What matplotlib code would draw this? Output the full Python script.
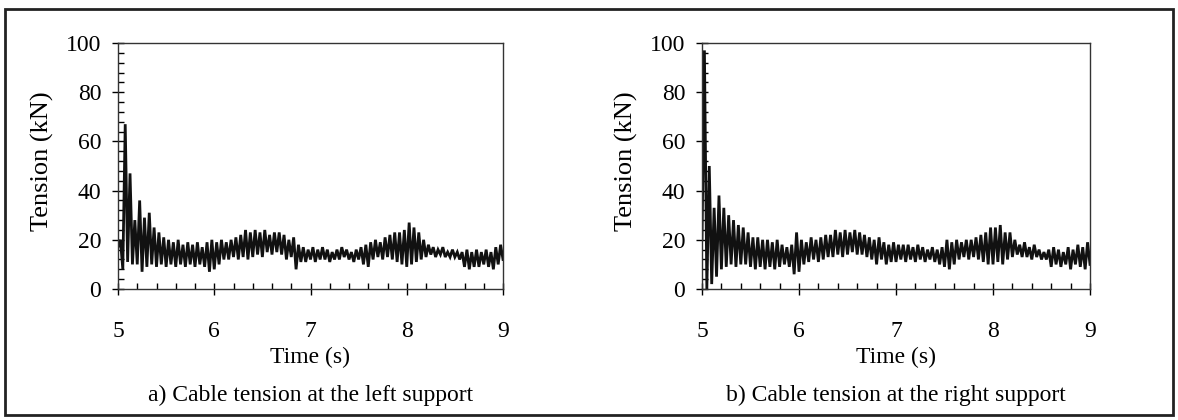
import numpy as np
import matplotlib
matplotlib.use("Agg")
import matplotlib.pyplot as plt
from matplotlib.patches import Rectangle
from matplotlib.ticker import MultipleLocator

plt.rcParams['font.family'] = ['Liberation Serif', 'DejaVu Serif']

# --- data (kN) ---
# troughs at t = 5.00, 5.05, ... 9.00 ; peaks at t = 5.025, 5.075, ... 8.975
t_start, t_end = 5.0, 9.0
half_step = 0.025

left_peaks = [20, 67, 47, 28, 36, 29, 31, 25, 23, 21,
              20, 19, 20, 18, 19, 18, 19, 17, 19, 20,
              19, 20, 19, 20, 21, 22, 24, 23, 24, 23,
              24, 22, 23, 23, 22, 20, 21, 18, 17, 16,
              17, 16, 17, 16, 15, 16, 17, 16, 15, 16,
              17, 18, 19, 20, 19, 21, 22, 23, 23, 24,
              27, 25, 23, 20, 18, 17, 16, 17, 15, 16,
              15, 15, 16, 15, 16, 15, 16, 15, 17, 18]
left_troughs = [17, 8, 11, 10, 10, 7, 9, 10, 9, 10,
                9, 10, 9, 10, 9, 10, 9, 10, 9, 7,
                8, 10, 12, 12, 13, 12, 13, 12, 13, 14,
                13, 15, 14, 15, 14, 12, 13, 8, 11, 11,
                12, 11, 12, 12, 11, 12, 12, 13, 12, 11,
                12, 10, 9, 12, 13, 12, 13, 12, 11, 10,
                9, 10, 11, 12, 13, 14, 13, 14, 13, 13,
                13, 12, 9, 8, 9, 9, 10, 9, 8, 10, 12]

right_peaks = [97, 50, 33, 38, 33, 30, 28, 26, 25, 23,
               21, 21, 20, 20, 19, 20, 18, 17, 18, 23,
               20, 19, 21, 20, 21, 22, 22, 24, 23, 24,
               23, 24, 23, 22, 21, 20, 21, 19, 18, 19,
               18, 18, 18, 17, 18, 17, 16, 17, 16, 17,
               20, 19, 20, 19, 20, 20, 21, 22, 23, 25,
               25, 26, 23, 23, 20, 18, 19, 17, 18, 16,
               15, 16, 17, 16, 15, 17, 16, 18, 17, 19]
right_troughs = [20, 0, 2, 5, 8, 9, 10, 9, 10, 10,
                 9, 8, 9, 8, 9, 8, 9, 10, 9, 6,
                 7, 10, 11, 12, 11, 12, 13, 13, 14, 13,
                 14, 15, 14, 14, 13, 12, 10, 12, 10, 11,
                 11, 12, 11, 12, 11, 12, 11, 12, 11, 10,
                 9, 8, 10, 12, 13, 12, 13, 12, 11, 10,
                 10, 11, 10, 12, 13, 14, 13, 13, 12, 13,
                 12, 12, 9, 10, 9, 10, 8, 10, 9, 8, 10]

panels = [(left_peaks, left_troughs, 'a) Cable tension at the left support'),
          (right_peaks, right_troughs, 'b) Cable tension at the right support')]


def interleave(peaks, troughs):
    vals = np.empty(len(peaks) + len(troughs))
    vals[0::2] = troughs
    vals[1::2] = peaks
    return vals


W, H = 1178, 420
fig = plt.figure(figsize=(W / 100, H / 100), dpi=100)

# outer frame
fig.patches.append(Rectangle((5 / W, 5 / H), 1168 / W, 406 / H, transform=fig.transFigure,
                             fill=False, edgecolor='#222222', linewidth=2))

axes_px = [(118, 503), (702, 1090)]
top_px, bot_px = 43, 289

for (x0, x1), (pk, tr, caption) in zip(axes_px, panels):
    ax = fig.add_axes([x0 / W, 1 - bot_px / H, (x1 - x0) / W, (bot_px - top_px) / H])
    y = interleave(pk, tr)
    t = t_start + half_step * np.arange(len(y))
    ax.plot(t, y, color='#111111', linewidth=2.0, solid_joinstyle='miter')

    ax.set_xlim(t_start, t_end)
    ax.set_ylim(0, 100)
    ax.xaxis.set_major_locator(MultipleLocator(1))
    ax.xaxis.set_minor_locator(MultipleLocator(0.2))
    ax.yaxis.set_major_locator(MultipleLocator(20))
    ax.yaxis.set_minor_locator(MultipleLocator(4))
    ax.tick_params(which='major', direction='inout', length=8, width=1, labelsize=17)
    ax.tick_params(which='minor', direction='in', length=4, width=1)
    ax.tick_params(axis='x', which='major', pad=19)
    ax.tick_params(axis='y', which='major', pad=8)
    for s in ax.spines.values():
        s.set_linewidth(1)
        s.set_color('#333333')

    xc = (x0 + x1) / 2
    fig.text(xc / W, 1 - 357 / H, 'Time (s)', ha='center', va='center', fontsize=17)
    fig.text(xc / W, 1 - 395 / H, caption, ha='center', va='center', fontsize=17)
    fig.text((x0 - 76) / W, 1 - 161 / H, 'Tension (kN)', ha='center', va='center',
             rotation=90, fontsize=19)

fig.savefig('out.png', dpi=100)
